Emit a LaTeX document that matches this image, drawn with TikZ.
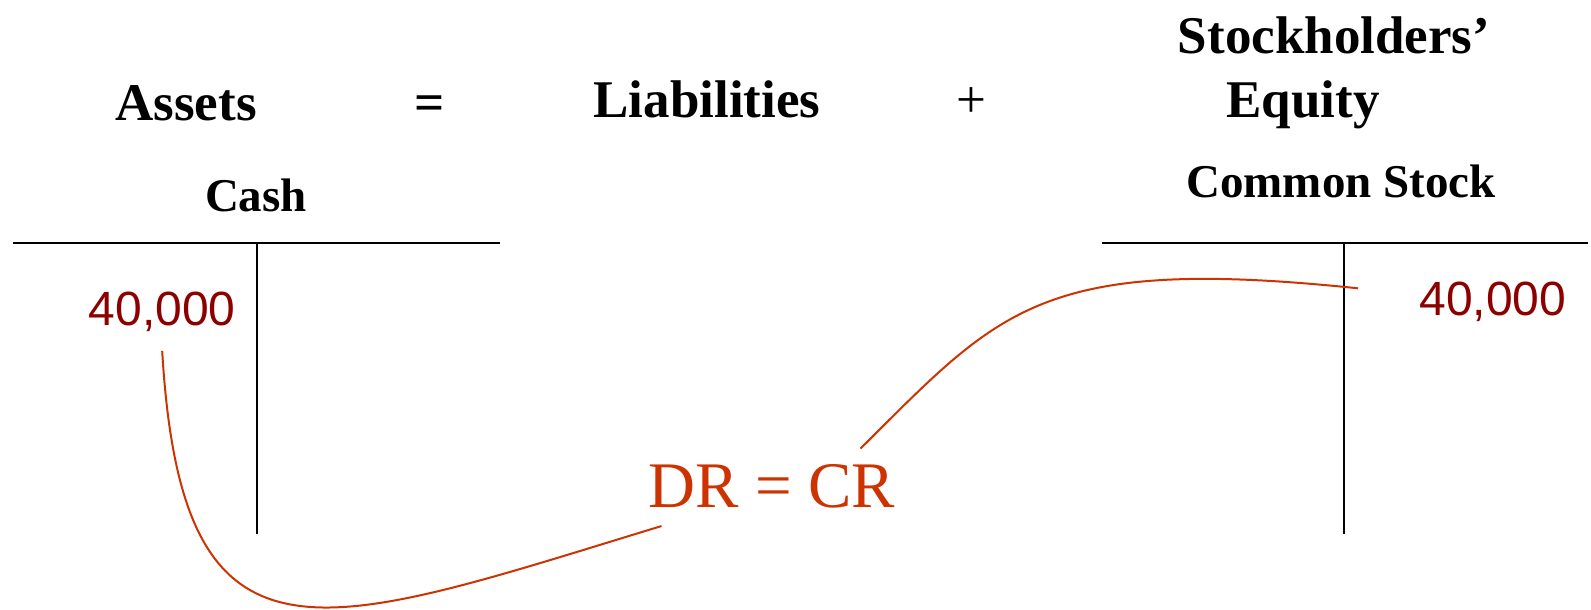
\documentclass[tikz,border=0pt]{standalone}
\usepackage{fontspec}
\setmainfont{Liberation Serif}
\newfontfamily\amtfont{Liberation Sans}
\definecolor{amtred}{RGB}{140,0,0}
\definecolor{linkred}{RGB}{204,51,0}
\tikzset{
  hdr/.style={anchor=base,inner sep=0pt,font=\fontsize{26.5}{30}\selectfont\bfseries},
  acct/.style={anchor=base,inner sep=0pt,font=\fontsize{23.5}{28}\selectfont\bfseries},
  amt/.style={text=amtred,font=\amtfont\fontsize{24}{28}\selectfont},
  tline/.style={line width=1pt},
  link/.style={draw=linkred,line width=1pt}
}

\begin{document}
\begin{tikzpicture}[x=0.5pt,y=-0.5pt]
  \useasboundingbox (0,0) rectangle (1591,610);
  % accounting equation
  \node (assets) [hdr] at (186,120) {Assets};
  \node (eq) [hdr] at (430,120) {=};
  \node (liab) [hdr] at (707,118) {Liabilities};
  \node (plus) [hdr,font=\fontsize{26.5}{30}\selectfont] at (971,118) {+};
  \node (sh) [hdr] at (1334,54) {Stockholders’};
  \node (equity) [hdr] at (1303,118) {Equity};
  % T accounts
  \node (cash) [acct] at (256,212) {Cash};
  \node (stock) [acct] at (1341,198) {Common Stock};
  \draw[tline] (13,243) -- (500,243);
  \draw[tline] (257,243) -- (257,534);
  \draw[tline] (1102,243) -- (1588,243);
  \draw[tline] (1344,243) -- (1344,534);
  % amounts
  \node (cashdr) [amt,fill=white,anchor=east,minimum height=38.5pt,inner xsep=10.25pt,inner ysep=0pt] at (256.5,312) {40,000};
  \node (stockcr) [amt,anchor=base west,inner sep=0pt] at (1419,315) {40,000};
  \node (drcr) [anchor=base,inner sep=0pt,text=linkred,font=\fontsize{32.5}{38}\selectfont] at (772,507) {DR = CR};
  % links
  \draw[link] (cashdr.south) .. controls (182,690) and (320,630) .. ([shift={(6.5pt,-9pt)}]drcr.south west);
  \draw[link] ([shift={(-17.5pt,7.5pt)}]drcr.north east) .. controls (1000,310) and (1040,255) .. ([shift={(-30.5pt,6.5pt)}]stockcr.west);
\end{tikzpicture}
\end{document}
